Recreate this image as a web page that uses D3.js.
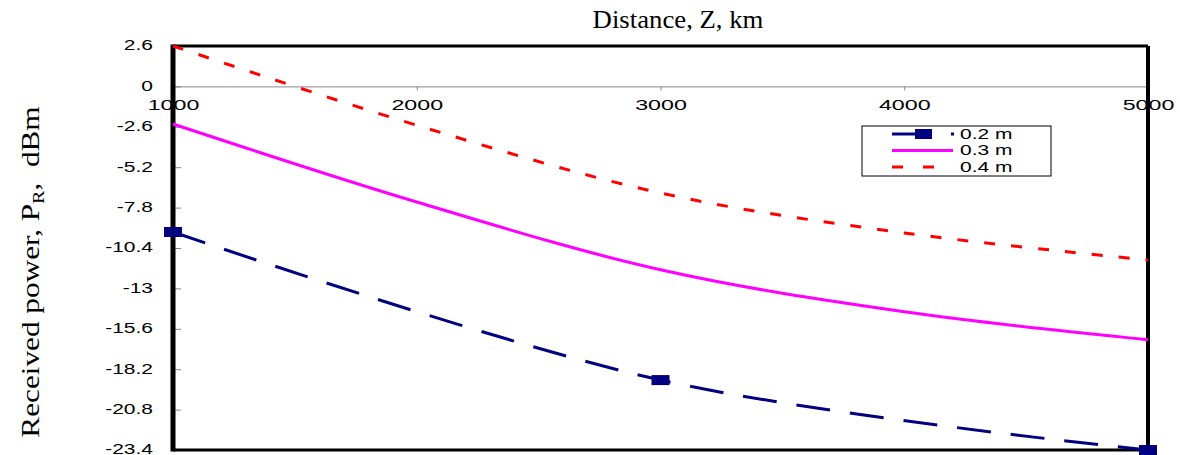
<!DOCTYPE html>
<html>
<head>
<meta charset="utf-8">
<script src="https://cdn.jsdelivr.net/npm/d3@7"></script>
<style>
  body { margin: 0; background: #fff; }
  svg { display: block; }
  .tick-label { font-family: "Liberation Sans", Arial, sans-serif; font-size: 15px; fill: #000; }
  .title { font-family: "Liberation Serif", "Times New Roman", serif; font-size: 25px; fill: #000; }
</style>
</head>
<body>
<div id="chart"></div>
<script>
// Distance (km)
const distances = [1000, 2000, 3000, 4000, 5000];
const xTicks = [1000, 2000, 3000, 4000, 5000];
const yTicks = [2.6, 0, -2.6, -5.2, -7.8, -10.4, -13, -15.6, -18.2, -20.8, -23.4];

// 0.2 m is only plotted at 1000, 3000 and 5000 km
const dist02 = [1000, 3000, 5000];
const power02 = [-9.37, -18.9, -23.4];
const power03 = [-2.42, -7.44, -11.8, -14.5, -16.3];
const power04 = [2.6, -2.5, -6.86, -9.43, -11.17];

const width = 1180, height = 455;
const margin = { top: 46, right: 32, bottom: 5, left: 173 };

const svg = d3.select("#chart").append("svg")
    .attr("width", width)
    .attr("height", height);

const x = d3.scaleLinear()
    .domain([1000, 5000])
    .range([margin.left, width - margin.right]);

const y = d3.scaleLinear()
    .domain([-23.4, 2.6])
    .range([height - margin.bottom, margin.top]);

// x axis sits on the zero line
const xAxis = svg.append("g")
    .attr("transform", `translate(0,${y(0)})`)
    .call(d3.axisBottom(x).tickValues(xTicks).tickSizeOuter(0).tickSizeInner(4).tickFormat(d3.format("d")));
xAxis.select(".domain").attr("stroke", "#888").attr("stroke-width", 1);
xAxis.selectAll(".tick line").attr("stroke", "#888");
xAxis.selectAll(".tick text")
    .attr("class", "tick-label")
    .attr("y", null).attr("dy", null)
    .attr("dominant-baseline", "middle")
    .attr("font-size", null).attr("font-family", null)
    .attr("transform", "translate(0,20) scale(1.55,1)");

// y axis, ticks pointing into the plot
const yAxis = svg.append("g")
    .attr("transform", `translate(${margin.left},0)`)
    .call(d3.axisLeft(y).tickValues(yTicks).tickSizeOuter(0).tickSizeInner(-8).tickFormat(d => d));
yAxis.select(".domain").remove();
yAxis.selectAll(".tick line").attr("stroke", "#888");
yAxis.selectAll(".tick text")
    .attr("class", "tick-label")
    .attr("x", null).attr("dy", null)
    .attr("dominant-baseline", "middle")
    .attr("font-size", null).attr("font-family", null)
    .attr("transform", "translate(-20,0) scale(1.4,1)");

// frame
const x0 = x.range()[0], x1 = x.range()[1], yT = y.range()[1], yB = y.range()[0];
svg.append("line").attr("x1", x0).attr("x2", x1).attr("y1", yT).attr("y2", yT)
    .attr("stroke", "#000").attr("stroke-width", 3);
svg.append("line").attr("x1", x0).attr("x2", x1).attr("y1", yB).attr("y2", yB)
    .attr("stroke", "#000").attr("stroke-width", 3);
svg.append("line").attr("x1", x1).attr("x2", x1).attr("y1", yT).attr("y2", yB)
    .attr("stroke", "#000").attr("stroke-width", 4);
svg.append("line").attr("x1", x0).attr("x2", x0).attr("y1", yT - 1.5).attr("y2", yB + 1.5)
    .attr("stroke", "#000").attr("stroke-width", 5);

const line = d3.line()
    .x(d => x(d[0]))
    .y(d => y(d[1]))
    .curve(d3.curveCardinal.tension(0));

const series = [
    { name: "0.2 m", xs: dist02, ys: power02, color: "#000080", dash: "34,20", marker: true },
    { name: "0.3 m", xs: distances, ys: power03, color: "#ff00ff", dash: null, marker: false },
    { name: "0.4 m", xs: distances, ys: power04, color: "#ff0000", dash: "11,16", marker: false }
];

series.forEach(s => {
    const pts = s.xs.map((d, i) => [d, s.ys[i]]);
    svg.append("path")
        .attr("d", line(pts))
        .attr("fill", "none")
        .attr("stroke", s.color)
        .attr("stroke-width", 3)
        .attr("stroke-dasharray", s.dash);
    if (s.marker) {
        svg.selectAll(null).data(pts).enter().append("rect")
            .attr("x", d => x(d[0]) - 9)
            .attr("y", d => y(d[1]) - 5)
            .attr("width", 18)
            .attr("height", 10)
            .attr("fill", s.color);
    }
});

// legend
const legend = svg.append("g").attr("transform", "translate(862,126)");
legend.append("rect")
    .attr("width", 189).attr("height", 50)
    .attr("fill", "#fff").attr("stroke", "#000").attr("stroke-width", 1);
series.forEach((s, i) => {
    const ly = 8 + i * 16.5;
    legend.append("line")
        .attr("x1", 30).attr("x2", s.marker ? 63 : 91)
        .attr("y1", ly).attr("y2", ly)
        .attr("stroke", s.color).attr("stroke-width", 3)
        .attr("stroke-dasharray", s.dash ? (s.marker ? null : "11,20") : null);
    if (s.marker) {
        legend.append("rect")
            .attr("x", 53).attr("y", ly - 5)
            .attr("width", 17).attr("height", 10)
            .attr("fill", s.color);
        legend.append("rect")
            .attr("x", 89).attr("y", ly - 1.5)
            .attr("width", 3).attr("height", 3)
            .attr("fill", s.color);
    }
    legend.append("text")
        .attr("class", "tick-label")
        .attr("dominant-baseline", "middle")
        .attr("transform", `translate(98,${ly + 1}) scale(1.4,1)`)
        .text(s.name);
});

// axis titles
svg.append("text")
    .attr("class", "title")
    .attr("text-anchor", "middle")
    .attr("transform", "translate(678,28) scale(1.07,1)")
    .text("Distance, Z, km");

const yTitle = svg.append("text")
    .attr("class", "title")
    .attr("text-anchor", "middle")
    .attr("transform", "translate(39,272) rotate(-90) scale(1.25,1)")
    .attr("xml:space", "preserve");
yTitle.append("tspan").text("Received power, P");
yTitle.append("tspan").attr("font-size", "16px").attr("dy", 5).text("R");
yTitle.append("tspan").attr("dy", -5).text(",\u00a0\u00a0dBm");
</script>
</body>
</html>
